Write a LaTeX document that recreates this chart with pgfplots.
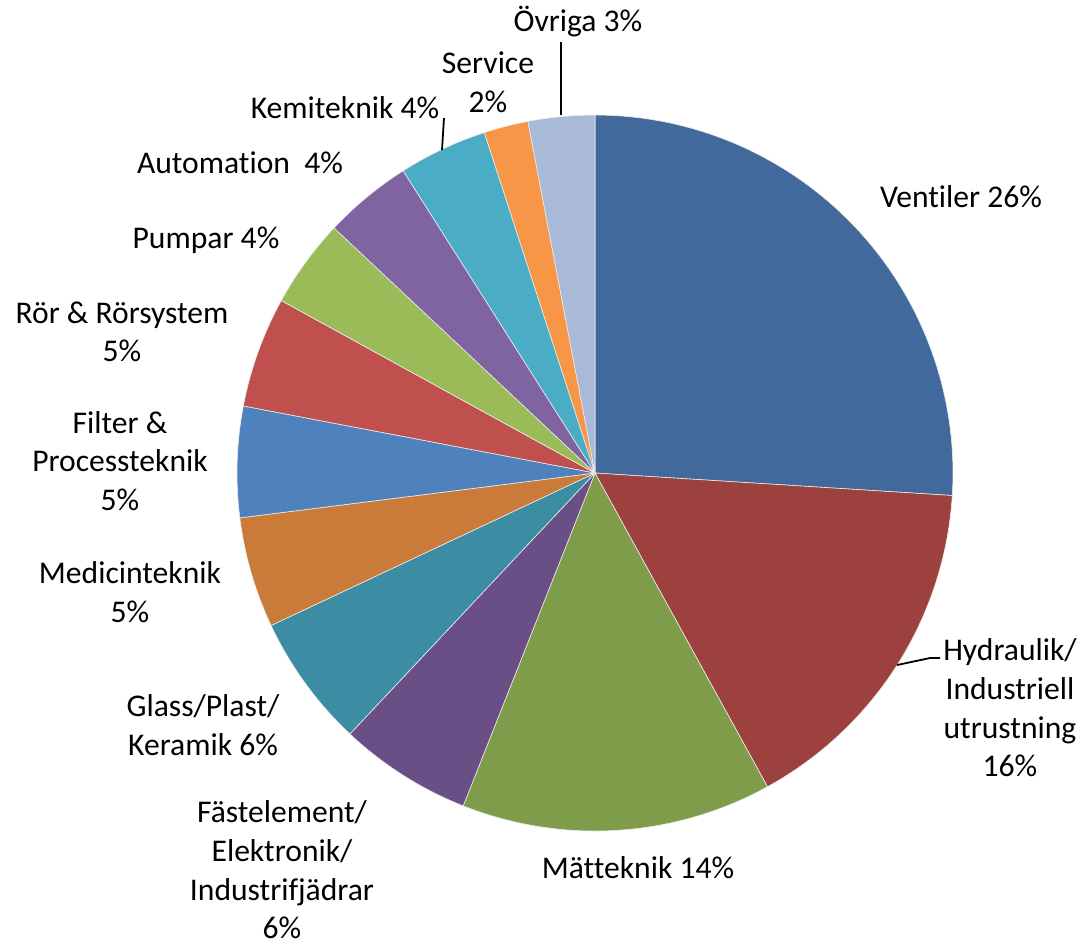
\documentclass[border=0pt]{standalone}
\usepackage{pgfplots}
\pgfplotsset{compat=1.18}
\usepackage{pgfplotstable}
\usepackage{fontspec}
\setmainfont{Carlito}[Ligatures=NoCommon]

\definecolor{c1}{HTML}{41699B}
\definecolor{c2}{HTML}{9D413E}
\definecolor{c3}{HTML}{7F9C4A}
\definecolor{c4}{HTML}{6A4F87}
\definecolor{c5}{HTML}{3C8CA3}
\definecolor{c6}{HTML}{CB7B39}
\definecolor{c7}{HTML}{4F81BD}
\definecolor{c8}{HTML}{C0504D}
\definecolor{c9}{HTML}{9BBB59}
\definecolor{c10}{HTML}{8064A2}
\definecolor{c11}{HTML}{4BACC6}
\definecolor{c12}{HTML}{F79646}
\definecolor{c13}{HTML}{A9B9D8}

% share in percent, clockwise from 12 o'clock
\pgfplotstableread{
value color
26 c1
16 c2
14 c3
6  c4
6  c5
5  c6
5  c7
5  c8
4  c9
4  c10
4  c11
2  c12
3  c13
}\piedata

\begin{document}
\begin{tikzpicture}
\begin{axis}[
    x=0.5pt, y=0.5pt,
    xmin=0, xmax=1084, ymin=0, ymax=942,
    hide axis, clip=false,
    nodes={font=\fontsize{15.8}{19.3}\selectfont, align=center},
]
\path (axis cs:0,0) rectangle (axis cs:1084,942);

\pgfplotstablegetrowsof{\piedata}
\pgfmathtruncatemacro\N{\pgfplotsretval-1}
\xdef\cum{90}
\foreach \i in {0,...,\N}{
  \pgfplotstablegetelem{\i}{value}\of\piedata \let\v\pgfplotsretval
  \pgfplotstablegetelem{\i}{color}\of\piedata \let\c\pgfplotsretval
  \pgfmathsetmacro\a{\cum}
  \pgfmathsetmacro\b{\cum-3.6*\v}
  \edef\temp{\noexpand\fill[\c, draw=white!85!gray, line width=0.3pt]
     (axis cs:595,469) -- +(\a:179pt) arc[start angle=\a, end angle=\b, radius=179pt] -- cycle;}
  \temp
  \xdef\cum{\b}
}

% leader lines
\draw[black, line width=0.9pt] (axis cs:561,827) -- (axis cs:561,900);
\draw[black, line width=0.9pt] (axis cs:442,792) -- (axis cs:444,824);
\draw[black, line width=0.9pt] (axis cs:897,277) -- (axis cs:930,284) -- (axis cs:940,284);

% labels
\node at (axis cs:578,920) {Övriga 3\%};
\node at (axis cs:488,860) {Service\\2\%};
\node at (axis cs:345,834) {Kemiteknik 4\%};
\node at (axis cs:240,779) {Automation\ \ 4\%};
\node at (axis cs:206,702) {Pumpar 4\%};
\node at (axis cs:122,610) {Rör \& Rörsystem\\5\%};
\node at (axis cs:120,481) {Filter \&\\Processteknik\\5\%};
\node at (axis cs:130,350) {Medicinteknik\\5\%};
\node at (axis cs:203,217) {Glass/Plast/\\Keramik 6\%};
\node at (axis cs:282,72) {Fästelement/\\Elektronik/\\Industrifjädrar\\6\%};
\node at (axis cs:638,74) {Mätteknik 14\%};
\node at (axis cs:961,745) {Ventiler 26\%};
\node at (axis cs:1010,234) {Hydraulik/\\Industriell\\utrustning\\16\%};
\end{axis}
\end{tikzpicture}
\end{document}
